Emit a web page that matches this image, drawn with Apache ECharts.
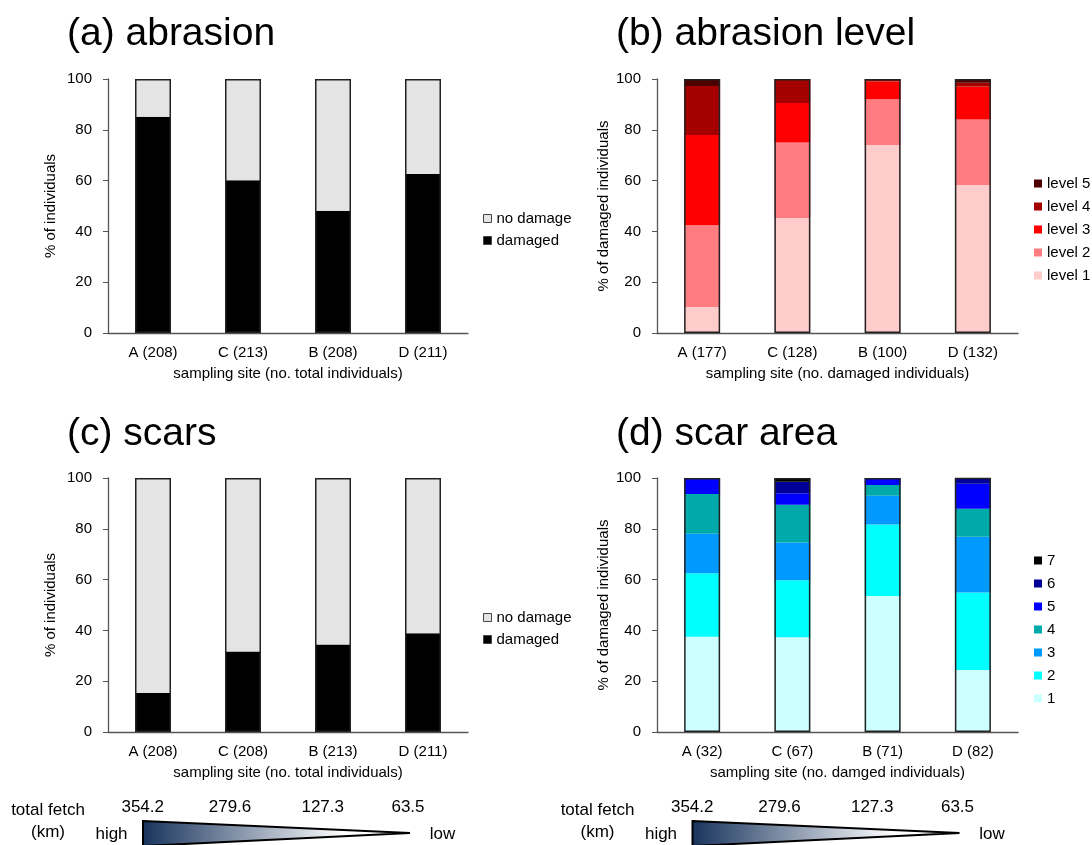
<!DOCTYPE html>
<html>
<head>
<meta charset="utf-8">
<script src="https://cdn.jsdelivr.net/npm/echarts@6/dist/echarts.min.js"></script>
<style>
  html, body { margin: 0; padding: 0; background: #fff; }
  #main { width: 1092px; height: 845px; }
</style>
</head>
<body>
<div id="main"></div>
<script>
// ---- data ----
var sitesA = ['A (208)', 'C (213)', 'B (208)', 'D (211)'];
var sitesB = ['A (177)', 'C (128)', 'B (100)', 'D (132)'];
var sitesC = ['A (208)', 'C (208)', 'B (213)', 'D (211)'];
var sitesD = ['A (32)', 'C (67)', 'B (71)', 'D (82)'];

// (a) abrasion, % of individuals
var abrDamaged = [85.1, 60.1, 48.1, 62.6];
var abrNoDamage = [14.9, 39.9, 51.9, 37.4];

// (b) abrasion level, % of damaged individuals
var lvl1 = [10.2, 45.3, 74, 58.3];
var lvl2 = [32.2, 29.7, 18, 25.8];
var lvl3 = [35.6, 15.6, 7, 12.9];
var lvl4 = [19.2, 9.4, 1, 1.5];
var lvl5 = [2.8, 0, 0, 1.5];

// (c) scars, % of individuals
var scarDamaged = [15.4, 31.7, 34.4, 38.9];
var scarNoDamage = [84.6, 68.3, 65.6, 61.1];

// (d) scar area classes, % of damaged individuals
var area1 = [37.5, 37.3, 53.5, 24.4];
var area2 = [25.0, 22.4, 28.2, 30.5];
var area3 = [15.6, 14.9, 11.3, 22.0];
var area4 = [15.6, 14.9, 4.2, 11.0];
var area5 = [6.3, 4.5, 2.8, 9.8];
var area6 = [0, 4.5, 0, 2.4];
var area7 = [0, 1.5, 0, 0];

var fetchValues = ['354.2', '279.6', '127.3', '63.5'];

var FONT = 'Liberation Sans, Arial, sans-serif';
var myChart = echarts.init(document.getElementById('main'));

var grids = [
  { left: 108, top: 79, width: 360, height: 254 },
  { left: 657, top: 79, width: 361, height: 254 },
  { left: 108, top: 478, width: 360, height: 254 },
  { left: 657, top: 478, width: 361, height: 254 }
];
var cats = [sitesA, sitesB, sitesC, sitesD];
var xNames = [
  'sampling site (no. total individuals)',
  'sampling site (no. damaged individuals)',
  'sampling site (no. total individuals)',
  'sampling site (no. damged individuals)'
];
var yNames = ['% of individuals', '% of damaged individuals', '% of individuals', '% of damaged individuals'];
var yGaps = [50, 46, 50, 46];

var xAxes = cats.map(function (c, i) {
  return {
    type: 'category', gridIndex: i, data: c,
    name: xNames[i], nameLocation: 'middle', nameGap: 33,
    nameTextStyle: { fontFamily: FONT, fontSize: 15, color: '#000' },
    axisLine: { lineStyle: { color: '#555', width: 1.3 } },
    axisTick: { length: 5, lineStyle: { color: '#555' } },
    axisLabel: { fontFamily: FONT, fontSize: 15, color: '#000', margin: 12 }
  };
});
var yAxes = yNames.map(function (n, i) {
  return {
    type: 'value', gridIndex: i, min: 0, max: 100, interval: 20,
    name: n, nameLocation: 'middle', nameGap: yGaps[i], nameRotate: 90,
    nameTextStyle: { fontFamily: FONT, fontSize: 15, color: '#000' },
    axisLine: { show: true, lineStyle: { color: '#555', width: 1.3 } },
    axisTick: { show: true, length: 5, lineStyle: { color: '#555' } },
    axisLabel: { fontFamily: FONT, fontSize: 15, color: '#000', margin: 16 },
    splitLine: { show: false }
  };
});

function seg(name, data, color, idx) {
  return {
    name: name, type: 'bar', stack: 's' + idx, data: data,
    xAxisIndex: idx, yAxisIndex: idx, barWidth: 36, barGap: '-100%',
    itemStyle: { color: color }, silent: true
  };
}
function outline(parts, idx) {
  var tot = parts[0].map(function (_, k) {
    return parts.reduce(function (s, p) { return s + p[k]; }, 0);
  });
  return {
    name: 'outline' + idx, type: 'bar', data: tot, z: 5,
    xAxisIndex: idx, yAxisIndex: idx, barWidth: 36, barGap: '-100%',
    itemStyle: { color: 'rgba(0,0,0,0)', borderColor: '#222', borderWidth: 1.5 },
    silent: true
  };
}

var series = [
  seg('damaged', abrDamaged, '#000000', 0),
  seg('no damage', abrNoDamage, '#e4e4e4', 0),
  outline([abrDamaged, abrNoDamage], 0),
  seg('level 1', lvl1, '#ffcccc', 1),
  seg('level 2', lvl2, '#ff7c80', 1),
  seg('level 3', lvl3, '#ff0000', 1),
  seg('level 4', lvl4, '#a50000', 1),
  seg('level 5', lvl5, '#4d0000', 1),
  outline([lvl1, lvl2, lvl3, lvl4, lvl5], 1),
  seg('damaged', scarDamaged, '#000000', 2),
  seg('no damage', scarNoDamage, '#e4e4e4', 2),
  outline([scarDamaged, scarNoDamage], 2),
  seg('1', area1, '#ccffff', 3),
  seg('2', area2, '#00ffff', 3),
  seg('3', area3, '#0099ff', 3),
  seg('4', area4, '#00aaaa', 3),
  seg('5', area5, '#0000ff', 3),
  seg('6', area6, '#000099', 3),
  seg('7', area7, '#000000', 3)
].concat([outline([area1, area2, area3, area4, area5, area6, area7], 3)]);

function legend(names, left, top, gap, bordered) {
  return {
    data: names, orient: 'vertical', left: left, top: top,
    icon: 'rect', itemWidth: 8, itemHeight: 8, itemGap: gap,
    selectedMode: false,
    itemStyle: bordered ? { borderColor: '#444', borderWidth: 1 } : { borderWidth: 0 },
    textStyle: { fontFamily: FONT, fontSize: 15, color: '#000' }
  };
}

// fetch gradient strip under each column of panels
function fetchGraphic(dx) {
  var f = '17px ' + FONT;
  function txt(s, x, y) {
    return { type: 'text', x: x + dx, y: y, style: { text: s, font: f, fill: '#000', align: 'center', verticalAlign: 'middle' } };
  }
  var g = [
    txt('total fetch', 48, 810),
    txt('(km)', 48, 832),
    txt('high', 111.5, 834),
    txt('low', 442.5, 834),
    {
      type: 'polygon', z: 10,
      shape: { points: [[143 + dx, 821], [410 + dx, 833], [143 + dx, 846]] },
      style: {
        fill: new echarts.graphic.LinearGradient(0, 0, 1, 0, [
          { offset: 0, color: '#17335c' }, { offset: 0.75, color: '#ffffff' }, { offset: 1, color: '#ffffff' }
        ]),
        stroke: '#000', lineWidth: 2
      }
    }
  ];
  var xs = [142.7, 230, 322.7, 408];
  fetchValues.forEach(function (v, k) { g.push(txt(v, xs[k], 807)); });
  return g;
}

var option = {
  backgroundColor: '#fff',
  animation: false,
  title: [
    { text: '(a) abrasion', left: 62, top: 10 },
    { text: '(b) abrasion level', left: 611, top: 10 },
    { text: '(c) scars', left: 62, top: 410 },
    { text: '(d) scar area', left: 611, top: 410 }
  ].map(function (t) {
    t.textStyle = { fontFamily: FONT, fontSize: 39, fontWeight: 'normal', color: '#000' };
    return t;
  }),
  grid: grids,
  xAxis: xAxes,
  yAxis: yAxes,
  legend: [
    legend(['no damage', 'damaged'], 478, 206, 7, true),
    legend(['level 5', 'level 4', 'level 3', 'level 2', 'level 1'], 1029, 171, 8, false),
    legend(['no damage', 'damaged'], 478, 605, 7, true),
    legend(['7', '6', '5', '4', '3', '2', '1'], 1029, 548, 8, false)
  ],
  series: series,
  graphic: fetchGraphic(0).concat(fetchGraphic(549.5))
};
option && myChart.setOption(option);
</script>
</body>
</html>
